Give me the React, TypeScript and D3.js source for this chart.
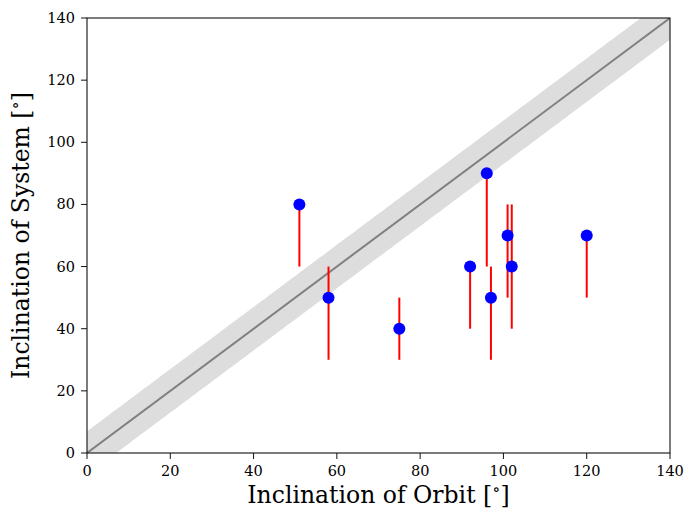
import React from "react";
import * as d3 from "d3";

const orbitInc = [51, 58, 75, 92, 96, 97, 101, 102, 120];
const systemInc = [80, 50, 40, 60, 90, 50, 70, 60, 70];
const errLow = [60, 30, 30, 40, 60, 30, 50, 40, 50];
const errHigh = [80, 60, 50, 60, 90, 60, 80, 80, 70];
const ticks = [0, 20, 40, 60, 80, 100, 120, 140];
const bandHalf = 7;

const W = 686, H = 508;
const m = { left: 87, right: 16, top: 18, bottom: 55 };

function Label({ text }: { text: string }) {
  return (
    <>
      {text} [<tspan fontSize="0.72em" dy="-0.45em">∘</tspan><tspan dy="0.32em">]</tspan>
    </>
  );
}

export default function App() {
  const x = d3.scaleLinear().domain([0, 140]).range([m.left, W - m.right]);
  const y = d3.scaleLinear().domain([0, 140]).range([H - m.bottom, m.top]);
  const lineX = d3.range(0, 141, 1);
  const area = d3.area<number>().x((d) => x(d)).y0((d) => y(d - bandHalf)).y1((d) => y(d + bandHalf));
  const line = d3.line<number>().x((d) => x(d)).y((d) => y(d));
  const font = "DejaVu Serif";
  return (
    <svg width={W} height={H} style={{ position: "absolute", left: 0, top: 0, background: "#fff" }} fontFamily={font}>
      <defs>
        <clipPath id="clip">
          <rect x={m.left} y={m.top} width={W - m.left - m.right} height={H - m.top - m.bottom} />
        </clipPath>
      </defs>
      <g clipPath="url(#clip)">
        <path d={area(lineX) || ""} fill="#dddddd" />
        <path d={line([0, 140]) || ""} stroke="#808080" strokeWidth={2} fill="none" />
      </g>
      {orbitInc.map((v, i) => (
        <line key={"e" + i} x1={x(v)} x2={x(v)} y1={y(errLow[i])} y2={y(errHigh[i])} stroke="#ff0000" strokeWidth={2} />
      ))}
      {orbitInc.map((v, i) => (
        <circle key={"p" + i} cx={x(v)} cy={y(systemInc[i])} r={6} fill="#0000ff" />
      ))}
      <rect x={m.left} y={m.top} width={W - m.left - m.right} height={H - m.top - m.bottom} fill="none" stroke="#111" strokeWidth={1.1} />
      {ticks.map((t) => (
        <g key={"x" + t}>
          <line x1={x(t)} x2={x(t)} y1={y(0)} y2={y(0) + 6} stroke="#111" />
          <text x={x(t)} y={y(0) + 23} fontSize={14.5} textAnchor="middle">{t}</text>
        </g>
      ))}
      {ticks.map((t) => (
        <g key={"y" + t}>
          <line x1={x(0) - 6} x2={x(0)} y1={y(t)} y2={y(t)} stroke="#111" />
          <text x={x(0) - 12} y={y(t) + 5} fontSize={14.5} textAnchor="end">{t}</text>
        </g>
      ))}
      <text x={(x(0) + x(140)) / 2} y={503} fontSize={23.5} textAnchor="middle"><Label text="Inclination of Orbit" /></text>
      <text transform={`translate(29, ${(y(0) + y(140)) / 2}) rotate(-90)`} fontSize={23.5} textAnchor="middle"><Label text="Inclination of System" /></text>
    </svg>
  );
}
